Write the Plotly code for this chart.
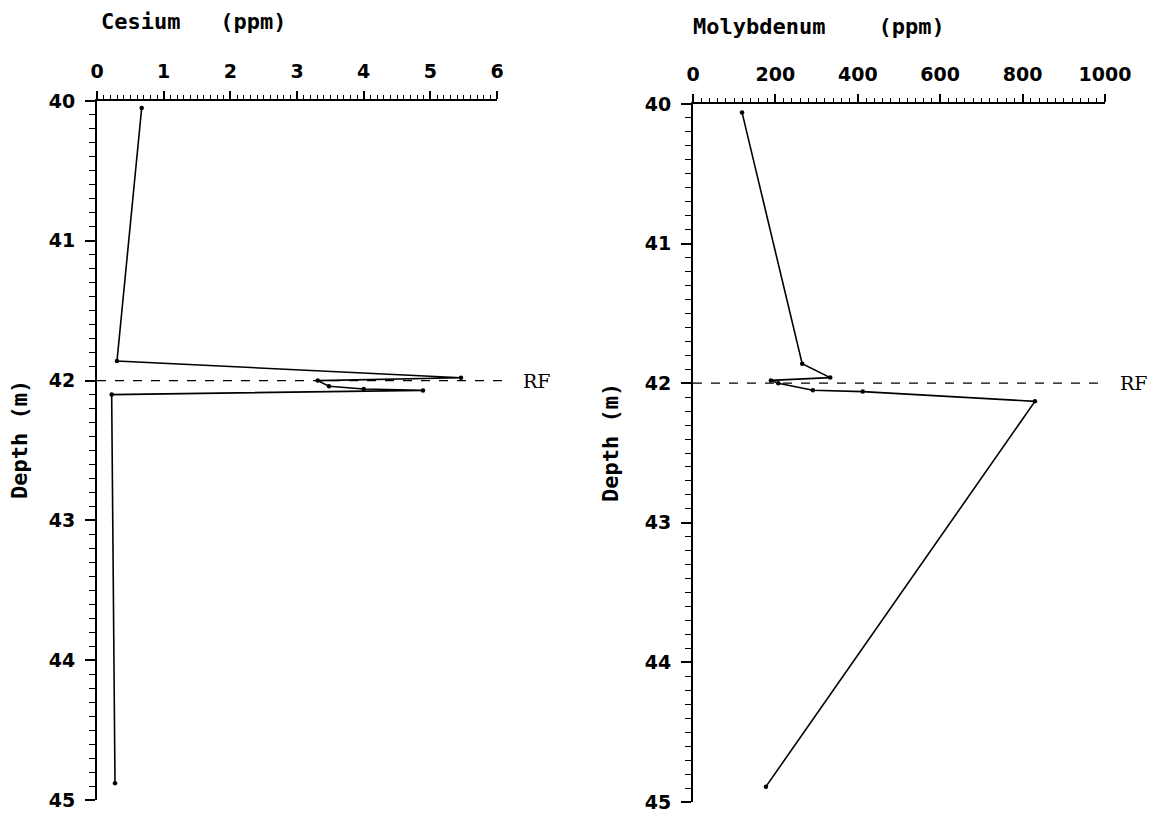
import plotly.graph_objects as go

# Cesium profile
cs_ppm = [0.67, 0.30, 5.46, 3.31, 3.48, 4.00, 4.89, 0.22, 0.27]
cs_depth = [40.05, 41.86, 41.98, 42.00, 42.04, 42.06, 42.07, 42.10, 44.88]

# Molybdenum profile
mo_ppm = [119, 265, 333, 189, 207, 291, 412, 830, 177]
mo_depth = [40.06, 41.86, 41.96, 41.98, 42.00, 42.05, 42.06, 42.13, 44.89]

rf_depth = 42.0
cs_ticks = [0, 1, 2, 3, 4, 5, 6]
mo_ticks = [0, 200, 400, 600, 800, 1000]
depth_ticks = [40, 41, 42, 43, 44, 45]

# page body has an 8px margin; figure starts 8px in from the window corner
W, H, OFF = 1157, 814, 8


def px_x(p):
    return (p - OFF) / W


def px_y(p):
    return 1 - (p - OFF) / H


tick_font = dict(family="DejaVu Sans", size=19, color="black", weight="bold")
title_font = dict(family="DejaVu Sans Mono", size=22, color="black")
rf_font = dict(family="DejaVu Serif", size=19, color="black")

fig = go.Figure()
line_style = dict(color="black", width=1.6)
marker_style = dict(color="black", size=4.5)

fig.add_trace(go.Scatter(x=cs_ppm, y=cs_depth, mode="lines+markers",
                         line=line_style, marker=marker_style,
                         xaxis="x", yaxis="y", showlegend=False))
fig.add_trace(go.Scatter(x=mo_ppm, y=mo_depth, mode="lines+markers",
                         line=line_style, marker=marker_style,
                         xaxis="x2", yaxis="y2", showlegend=False))

common_x = dict(side="top", ticks="outside", ticklen=8, tickwidth=1.6,
                tickcolor="black", showline=True, linecolor="black",
                linewidth=1.8, showgrid=False, zeroline=False,
                tickfont=tick_font, fixedrange=True, automargin=False,
                ticklabelstandoff=6)
common_y = dict(ticks="outside", ticklen=10, tickwidth=1.6, tickcolor="black",
                showline=True, linecolor="black", linewidth=1.8,
                showgrid=False, zeroline=False, tickfont=tick_font,
                range=[45, 40], tickvals=depth_ticks, automargin=False,
                ticklabelstandoff=6,
                minor=dict(dtick=0.1, ticklen=6, ticks="outside",
                           tickcolor="black", tickwidth=1.3, showgrid=False))

fig.update_layout(
    width=W, height=H,
    margin=dict(l=0, r=0, t=0, b=0),
    paper_bgcolor="white", plot_bgcolor="white",
    xaxis=dict(domain=[px_x(97), px_x(497)], range=[0, 6], tickvals=cs_ticks,
               minor=dict(dtick=0.1, ticklen=4, ticks="outside",
                          tickcolor="black", tickwidth=1.2, showgrid=False),
               anchor="y", **common_x),
    xaxis2=dict(domain=[px_x(693), px_x(1105)], range=[0, 1000],
                tickvals=mo_ticks,
                minor=dict(dtick=20, ticklen=4, ticks="outside",
                           tickcolor="black", tickwidth=1.2, showgrid=False),
                anchor="y2", **common_x),
    yaxis=dict(domain=[px_y(800), px_y(101)], anchor="x", **common_y),
    yaxis2=dict(domain=[px_y(802), px_y(104)], anchor="x2", **common_y),
)

# RF dashed lines
fig.add_shape(type="line", xref="x domain", yref="y", x0=0, x1=1.02,
              y0=rf_depth, y1=rf_depth,
              line=dict(color="black", width=1.2, dash="dash"))
fig.add_shape(type="line", xref="x2 domain", yref="y2", x0=0, x1=1.0,
              y0=rf_depth, y1=rf_depth,
              line=dict(color="black", width=1.2, dash="dash"))
fig.add_annotation(text="RF", xref="paper", yref="y", x=px_x(521), y=rf_depth,
                   xanchor="left", yanchor="middle", showarrow=False,
                   font=rf_font)
fig.add_annotation(text="RF", xref="paper", yref="y2", x=px_x(1118),
                   y=rf_depth, xanchor="left", yanchor="middle",
                   showarrow=False, font=rf_font)

# Panel titles
fig.add_annotation(text="<b>Cesium   (ppm)</b>", xref="paper", yref="paper",
                   x=px_x(99), y=px_y(22), xanchor="left", yanchor="middle",
                   showarrow=False, font=title_font)
fig.add_annotation(text="<b>Molybdenum    (ppm)</b>", xref="paper",
                   yref="paper", x=px_x(691), y=px_y(26), xanchor="left",
                   yanchor="middle", showarrow=False, font=title_font)

# Depth axis titles
fig.add_annotation(text="<b>Depth (m)</b>", xref="paper", yref="paper",
                   x=px_x(20), y=px_y(440), textangle=-90, xanchor="center",
                   yanchor="middle", showarrow=False, font=title_font)
fig.add_annotation(text="<b>Depth (m)</b>", xref="paper", yref="paper",
                   x=px_x(611), y=px_y(443), textangle=-90, xanchor="center",
                   yanchor="middle", showarrow=False, font=title_font)

fig.write_html("out.html")
